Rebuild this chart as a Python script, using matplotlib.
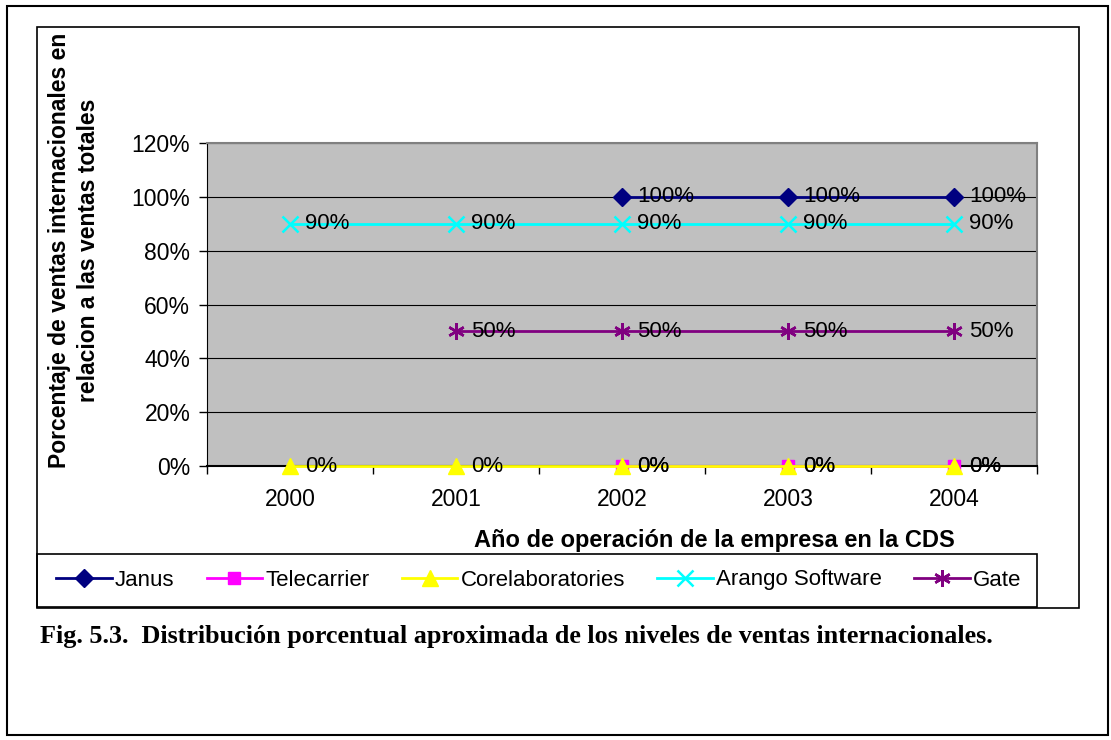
import numpy as np
import matplotlib
matplotlib.use('Agg')
import matplotlib.pyplot as plt
from matplotlib.patches import Rectangle
from matplotlib.ticker import FuncFormatter

plt.rcParams['font.family'] = 'Liberation Sans'

# Datos
anios = ['2000', '2001', '2002', '2003', '2004']
janus = [None, None, 1.0, 1.0, 1.0]
telecarrier = [None, None, 0.0, 0.0, 0.0]
corelab = [0.0, 0.0, 0.0, 0.0, 0.0]
arango = [0.9, 0.9, 0.9, 0.9, 0.9]
gate = [None, 0.5, 0.5, 0.5, 0.5]

series = [
    ('Janus', janus, '#000080', 'D', 9),
    ('Telecarrier', telecarrier, '#FF00FF', 's', 9),
    ('Corelaboratories', corelab, '#FFFF00', '^', 11),
    ('Arango Software', arango, '#00FFFF', 'x', 11),
    ('Gate', gate, '#800080', (6, 2, 0), 12),
]

W, H = 1111, 740
fig = plt.figure(figsize=(W / 100, H / 100), dpi=100)

def fx(px):
    return px / W

def fy(py):
    return 1 - py / H

# marcos
fig.patches.append(Rectangle((fx(7), fy(735)), fx(1108) - fx(7), fy(6) - fy(735),
                             transform=fig.transFigure, fill=False, ec='black', lw=1.5))
fig.patches.append(Rectangle((fx(37), fy(608)), fx(1079) - fx(37), fy(27) - fy(608),
                             transform=fig.transFigure, fill=False, ec='black', lw=1.2))

ax = fig.add_axes([fx(207), fy(466), fx(1037) - fx(207), fy(143) - fy(466)])
ax.set_facecolor('#C0C0C0')

x = np.arange(len(anios))
for nombre, vals, color, mk, ms in series:
    y = np.array([np.nan if v is None else v for v in vals])
    ax.plot(x, y, color=color, lw=2, marker=mk, markersize=ms,
            markeredgewidth=1.8 if mk in ('x', (6, 2, 0)) else 1,
            label=nombre, zorder=4, clip_on=False)
    for xi, yi in zip(x, y):
        if not np.isnan(yi):
            ax.annotate(f'{yi:.0%}', (xi, yi), xytext=(11, 0), textcoords='offset points',
                        va='center', ha='left', fontsize=16, zorder=5)

ax.set_xlim(-0.5, len(anios) - 0.5)
ax.set_ylim(0, 1.2)
ax.set_yticks(np.arange(0, 1.21, 0.2))
ax.yaxis.set_major_formatter(FuncFormatter(lambda v, p: f'{v:.0%}'))
ax.grid(axis='y', color='black', lw=0.8)
ax.set_axisbelow(True)

ax.set_xticks(np.arange(-0.5, len(anios), 1.0))
ax.set_xticklabels([])
ax.set_xticks(x, minor=True)
ax.set_xticklabels(anios, minor=True)
ax.tick_params(axis='x', which='minor', length=0, pad=16, labelsize=16.5)
ax.tick_params(axis='x', which='major', length=6, direction='out', width=1)
ax.tick_params(axis='y', length=6, direction='out', width=1, pad=6, labelsize=16.5)

for s in ['top', 'right']:
    ax.spines[s].set_color('#808080')
    ax.spines[s].set_linewidth(1.5)
ax.spines['left'].set_color('black')
ax.spines['bottom'].set_color('black')
ax.spines['bottom'].set_linewidth(1.5)

fig.text(fx(74), fy(250), 'Porcentaje de ventas internacionales en\nrelacion a las ventas totales',
         rotation=90, ha='center', va='center', multialignment='center',
         fontsize=16.5, fontweight='bold', linespacing=1.35)
fig.text(fx(955), fy(541), 'Año de operación de la empresa en la CDS',
         ha='right', va='center', fontsize=17, fontweight='bold')

# leyenda
fig.patches.append(Rectangle((fx(37), fy(607)), fx(1037) - fx(37), fy(554) - fy(607),
                             transform=fig.transFigure, fill=False, ec='black', lw=1.2))
handles, labels = ax.get_legend_handles_labels()
fig.legend(handles, labels, loc='center left', bbox_to_anchor=(fx(56), fy(580)),
           ncol=5, frameon=False, fontsize=16, handlelength=2.5, handletextpad=0.15,
           columnspacing=1.45, borderpad=0, borderaxespad=0)

fig.text(fx(40), fy(636), 'Fig. 5.3.  Distribución porcentual aproximada de los niveles de ventas internacionales.',
         ha='left', va='center', fontsize=18.8, fontweight='bold', family='Liberation Serif')

fig.savefig('out.png', dpi=100)
